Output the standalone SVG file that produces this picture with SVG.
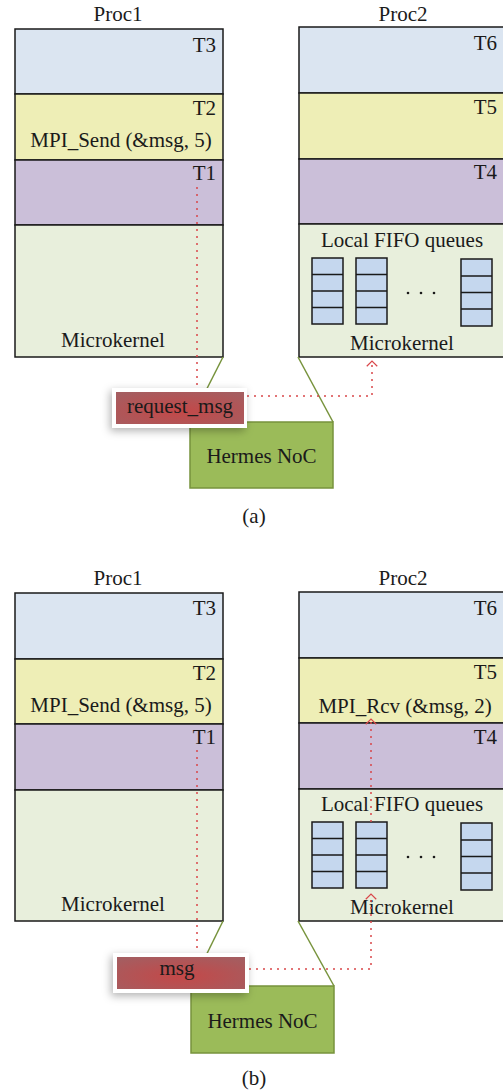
<svg xmlns="http://www.w3.org/2000/svg" width="503" height="1092" viewBox="0 0 503 1092">
<style>
text{font-family:"Liberation Serif","Times New Roman",serif;font-size:21px;fill:#1a1a1a}
.c{text-anchor:middle}
.r{text-anchor:end}
.box{stroke:#1a1a1a;stroke-width:1.5}
.t3{fill:#dbe5f1}
.t2{fill:#eeeeb6}
.t1{fill:#cbbfd9}
.mk{fill:#e8efdc}
.q{fill:#c5d7ee;stroke:#1a1a1a;stroke-width:1.5}
.ql{stroke:#1a1a1a;stroke-width:1.5}
.noc{fill:#9bbb59;stroke:#77933c;stroke-width:1.5}
.gl{stroke:#77933c;stroke-width:1.5;fill:none}
.dot{stroke:#d9474a;stroke-width:1.5;stroke-dasharray:2 5;fill:none}
.wb{fill:#ffffff}
.rb{fill:url(#rg)}
</style>
<defs>
<radialGradient id="rg" cx="0.5" cy="0.6" r="0.7">
<stop offset="0" stop-color="#c44848"/>
<stop offset="1" stop-color="#a55d60"/>
</radialGradient>
<filter id="sh" x="-30%" y="-60%" width="160%" height="220%">
<feDropShadow dx="-2" dy="3" stdDeviation="4" flood-color="#000" flood-opacity="0.3"/>
</filter>
<marker id="arr" markerUnits="userSpaceOnUse" viewBox="0 0 8 14" refX="7" refY="7" markerWidth="7" markerHeight="13" orient="auto">
<path d="M1,1 L7,7 L1,13" fill="none" stroke="#d9474a" stroke-width="1.4"/>
</marker>
</defs>

<!-- Panel (a) -->
<g id="a-proc1">
<text class="c" x="118" y="21">Proc1</text>
<rect class="box t3" x="15" y="29" width="208" height="65"/>
<rect class="box t2" x="15" y="94" width="208" height="66"/>
<rect class="box t1" x="15" y="160" width="208" height="65"/>
<rect class="box mk" x="15" y="225" width="208" height="132"/>
<text class="r" x="216" y="52">T3</text>
<text class="r" x="216" y="115">T2</text>
<text class="c" x="121" y="147">MPI_Send (&amp;msg, 5)</text>
<text class="r" x="216" y="180">T1</text>
<text class="c" x="113" y="347">Microkernel</text>
</g>
<g id="a-proc2">
<text class="c" x="403" y="21">Proc2</text>
<rect class="box t3" x="299" y="27" width="208" height="66"/>
<rect class="box t2" x="299" y="93" width="208" height="66"/>
<rect class="box t1" x="299" y="159" width="208" height="65"/>
<rect class="box mk" x="299" y="224" width="208" height="133"/>
<text class="r" x="497" y="50">T6</text>
<text class="r" x="497" y="114">T5</text>
<text class="r" x="497" y="179">T4</text>
<text class="c" x="402" y="247">Local FIFO queues</text>
<g id="a-queues">
<rect class="q" x="312" y="258" width="31" height="66"/>
<path class="ql" d="M312,274.5H343M312,291H343M312,307.5H343"/>
<rect class="q" x="356" y="258" width="31" height="66"/>
<path class="ql" d="M356,274.5H387M356,291H387M356,307.5H387"/>
<rect class="q" x="461" y="259" width="31" height="67"/>
<path class="ql" d="M461,276H492M461,292.5H492M461,309H492"/>
<circle cx="408" cy="293" r="1.3" fill="#1a1a1a"/>
<circle cx="421" cy="293" r="1.3" fill="#1a1a1a"/>
<circle cx="434" cy="293" r="1.3" fill="#1a1a1a"/>
</g>
<text class="c" x="402" y="350">Microkernel</text>
</g>
<g id="a-noc">
<rect class="noc" x="190" y="422" width="143" height="66"/>
<text class="c" x="261.5" y="463">Hermes NoC</text>
</g>
<g id="a-links">
<path class="gl" d="M223,357L190,422"/>
<path class="gl" d="M298,357L333,422"/>
<path class="dot" d="M197,187V388"/>
<path class="dot" d="M247,396H372V361" marker-end="url(#arr)"/>
</g>
<g id="a-msg">
<rect class="wb" x="112" y="388" width="135" height="40" filter="url(#sh)"/>
<rect class="rb" x="116" y="392" width="128" height="32"/>
<text class="c" x="180" y="413">request_msg</text>
</g>
<text class="c" x="254" y="523">(a)</text>

<!-- Panel (b) -->
<g id="b-proc1">
<text class="c" x="118" y="585">Proc1</text>
<rect class="box t3" x="15" y="593" width="208" height="66"/>
<rect class="box t2" x="15" y="659" width="208" height="65"/>
<rect class="box t1" x="15" y="724" width="208" height="66"/>
<rect class="box mk" x="15" y="790" width="208" height="131"/>
<text class="r" x="216" y="615">T3</text>
<text class="r" x="216" y="680">T2</text>
<text class="c" x="121" y="712">MPI_Send (&amp;msg, 5)</text>
<text class="r" x="216" y="744">T1</text>
<text class="c" x="113" y="911">Microkernel</text>
</g>
<g id="b-proc2">
<text class="c" x="403" y="585">Proc2</text>
<rect class="box t3" x="299" y="592" width="208" height="66"/>
<rect class="box t2" x="299" y="658" width="208" height="65"/>
<rect class="box t1" x="299" y="723" width="208" height="66"/>
<rect class="box mk" x="299" y="789" width="208" height="132"/>
<text class="r" x="497" y="615">T6</text>
<text class="r" x="497" y="679">T5</text>
<text class="c" x="405" y="713">MPI_Rcv (&amp;msg, 2)</text>
<text class="r" x="497" y="744">T4</text>
<text class="c" x="402" y="811">Local FIFO queues</text>
<g id="b-queues">
<rect class="q" x="312" y="822" width="31" height="66"/>
<path class="ql" d="M312,838.5H343M312,855H343M312,871.5H343"/>
<rect class="q" x="356" y="822" width="31" height="66"/>
<path class="ql" d="M356,838.5H387M356,855H387M356,871.5H387"/>
<rect class="q" x="461" y="823" width="31" height="67"/>
<path class="ql" d="M461,840H492M461,856.5H492M461,873H492"/>
<circle cx="408" cy="857" r="1.3" fill="#1a1a1a"/>
<circle cx="421" cy="857" r="1.3" fill="#1a1a1a"/>
<circle cx="434" cy="857" r="1.3" fill="#1a1a1a"/>
</g>
<text class="c" x="402" y="914">Microkernel</text>
</g>
<g id="b-noc">
<rect class="noc" x="191" y="986" width="143" height="67"/>
<text class="c" x="262.5" y="1028">Hermes NoC</text>
</g>
<g id="b-links">
<path class="gl" d="M223,921L191,986"/>
<path class="gl" d="M298,921L334,986"/>
<path class="dot" d="M197,750V953"/>
<path class="dot" d="M249,969H371V894" marker-end="url(#arr)"/>
<path class="dot" d="M371,822V719" marker-end="url(#arr)"/>
</g>
<g id="b-msg">
<rect class="wb" x="113" y="953" width="136" height="40" filter="url(#sh)"/>
<rect class="rb" x="117" y="957" width="128" height="32"/>
<text class="c" x="177" y="975">msg</text>
</g>
<text class="c" x="254" y="1085">(b)</text>
</svg>
